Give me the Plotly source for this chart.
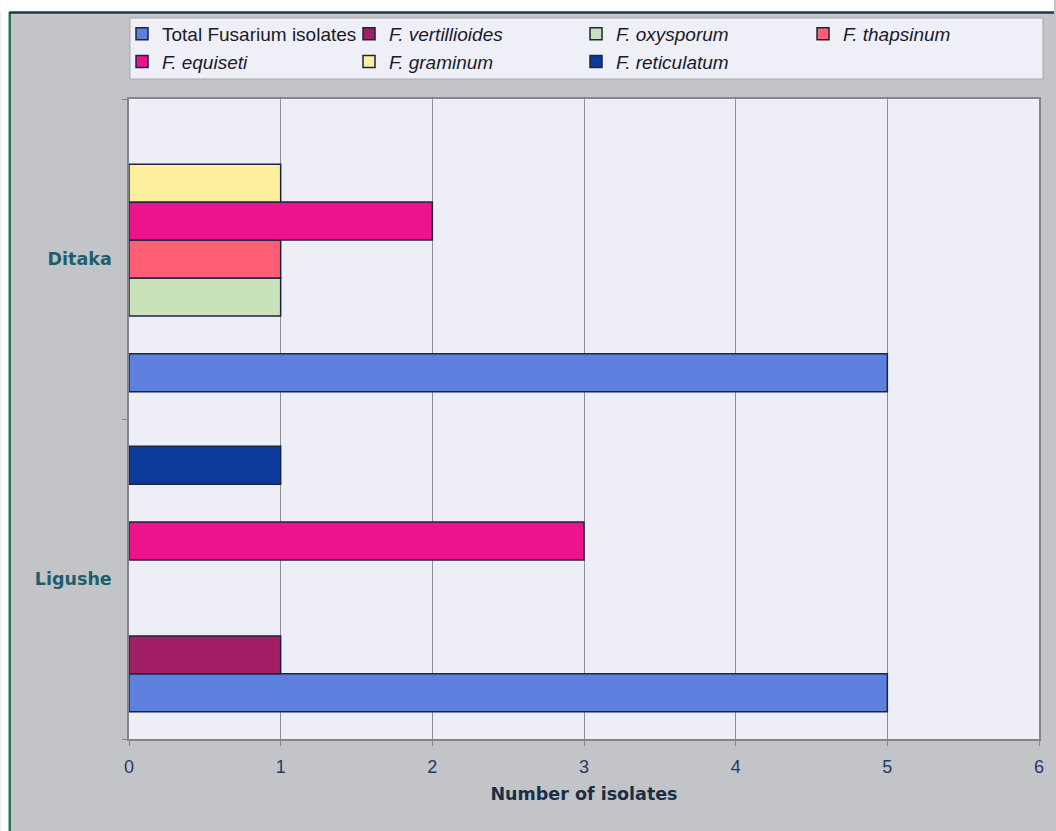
import plotly.graph_objects as go

# Sampling sites (bottom to top) and isolate counts per species
sites = ["Ligushe", "Ditaka"]
series_names = [
    "Total Fusarium isolates",
    "<i>F. vertillioides</i>",
    "<i>F. oxysporum</i>",
    "<i>F. thapsinum</i>",
    "<i>F. equiseti</i>",
    "<i>F. graminum</i>",
    "<i>F. reticulatum</i>",
]
total_isolates = [5, 5]
f_vertillioides = [1, 0]
f_oxysporum = [0, 1]
f_thapsinum = [0, 1]
f_equiseti = [3, 2]
f_graminum = [0, 1]
f_reticulatum = [1, 0]
x_ticks = [0, 1, 2, 3, 4, 5, 6]

series_values = [total_isolates, f_vertillioides, f_oxysporum, f_thapsinum,
                 f_equiseti, f_graminum, f_reticulatum]
series_colors = ["#5D80DE", "#A21F66", "#C9E2B9", "#FF5F74",
                 "#EC148C", "#FFF0A0", "#0B3A9A"]

W, H = 1056, 831
ML, MR, MT, MB = 129, 15, 99, 92
PW, PH = W - ML - MR, H - MT - MB


def px_x(px):
    return (px - ML) / PW


def px_y(py):
    return (H - MB - py) / PH


fig = go.Figure()
for name, vals, col in zip(series_names, series_values, series_colors):
    # empty counts get no bar at all (avoids a hairline outline at zero)
    fig.add_trace(go.Bar(
        y=sites, x=[v if v else None for v in vals], name=name,
        orientation="h",
        marker=dict(color=col, line=dict(color="#1C2440", width=1.5)),
    ))

shapes = [
    # outer white margin and frame lines
    dict(type="rect", xref="paper", yref="paper", layer="below",
         x0=px_x(0), x1=px_x(W), y0=px_y(12), y1=px_y(0),
         fillcolor="white", line=dict(width=0)),
    dict(type="rect", xref="paper", yref="paper", layer="below",
         x0=px_x(0), x1=px_x(9), y0=px_y(H), y1=px_y(0),
         fillcolor="white", line=dict(width=0)),
    dict(type="line", xref="paper", yref="paper", layer="below",
         x0=px_x(9.5), x1=px_x(9.5), y0=px_y(H), y1=px_y(12),
         line=dict(color="#2E6E50", width=2.5)),
    dict(type="line", xref="paper", yref="paper", layer="below",
         x0=px_x(9), x1=px_x(W), y0=px_y(12.5), y1=px_y(12.5),
         line=dict(color="#1A3A50", width=2.5)),
    # legend box
    dict(type="rect", xref="paper", yref="paper", layer="below",
         x0=px_x(130), x1=px_x(1045), y0=px_y(79), y1=px_y(18),
         fillcolor="#EFEFF7", line=dict(color="#A8A8B0", width=1)),
]

fig.update_layout(
    width=W, height=H,
    margin=dict(l=ML, r=MR, t=MT, b=MB, pad=0),
    paper_bgcolor="#C3C4C8",
    plot_bgcolor="#EEEEF6",
    barmode="group",
    bargap=0.17,
    bargroupgap=0,
    shapes=shapes,
    showlegend=True,
    legend=dict(
        orientation="h",
        x=px_x(122), xanchor="left",
        y=px_y(15), yanchor="top",
        bgcolor="rgba(0,0,0,0)",
        borderwidth=0,
        entrywidth=182, entrywidthmode="pixels",
        traceorder="normal",
        font=dict(family="Liberation Sans, Arial, sans-serif", size=19,
                  color="#1A1A2A"),
    ),
    font=dict(family="Liberation Sans, Arial, sans-serif"),
)

fig.update_xaxes(
    range=[0, 6], tickvals=x_ticks, ticktext=[str(v) for v in x_ticks],
    showgrid=True, gridcolor="#8E8E96", gridwidth=1,
    showline=True, linecolor="#858590", linewidth=1.5, mirror=True,
    ticks="outside", ticklen=5, tickcolor="#858590",
    zeroline=False,
    tickfont=dict(family="Liberation Sans, Arial, sans-serif", size=18,
                  color="#1F3B66"),
    ticklabelstandoff=6,
    title=dict(text="<b>Number of isolates</b>", standoff=11,
               font=dict(family="DejaVu Sans, sans-serif", size=17.5,
                         color="#1A2E45")),
)

fig.update_yaxes(
    categoryorder="array", categoryarray=sites,
    showgrid=False,
    showline=True, linecolor="#858590", linewidth=1.5, mirror=True,
    ticks="outside", ticklen=5, tickcolor="#858590", tickson="boundaries",
    ticklabelstandoff=12,
    tickfont=dict(family="DejaVu Sans, sans-serif", size=17.5, color="#1F5E6C",
                  weight="bold"),
)

fig.write_html("out.html")
